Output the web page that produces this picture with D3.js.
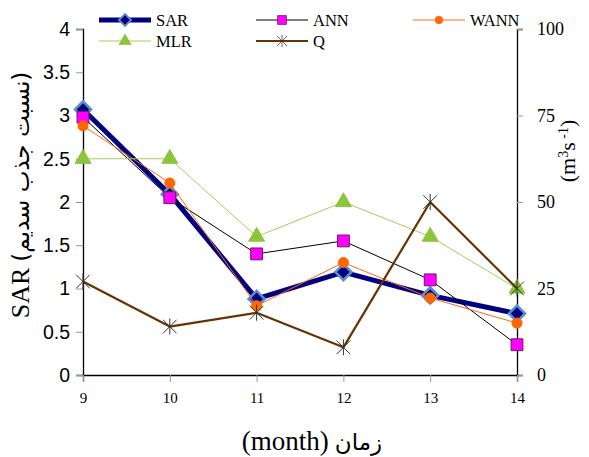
<!DOCTYPE html>
<html>
<head>
<meta charset="utf-8">
<script src="https://cdn.jsdelivr.net/npm/d3@7"></script>
<style>
  body { margin: 0; background: #fff; }
  svg { display: block; }
</style>
</head>
<body>
<div id="chart"></div>
<script>
const months = [9, 10, 11, 12, 13, 14];
const sar  = [3.07, 2.09, 0.88, 1.19, 0.92, 0.71];
const ann  = [2.98, 2.05, 1.40, 1.55, 1.10, 0.35];
const wann = [2.88, 2.22, 0.80, 1.30, 0.89, 0.60];
const mlr  = [2.5, 2.5, 1.6, 2.0, 1.6, 1.0];
const q    = [27, 14, 18, 8, 50, 25];   // right axis, m3/s
const leftTicks = [0, 0.5, 1, 1.5, 2, 2.5, 3, 3.5, 4];
const rightTicks = [0, 25, 50, 75, 100];

const W = 589, H = 457;
const margin = {top: 29, right: 72, bottom: 82, left: 83};
const width = W - margin.left - margin.right;
const height = H - margin.top - margin.bottom;

const serif = "'Liberation Serif', 'Times New Roman', serif";
const arabic = "'DejaVu Sans', sans-serif";

const svg = d3.select("#chart").append("svg")
    .attr("width", W)
    .attr("height", H);

const g = svg.append("g")
    .attr("transform", `translate(${margin.left},${margin.top})`);

const x = d3.scaleLinear().domain([9, 14]).range([0, width]);
const y = d3.scaleLinear().domain([0, 4]).range([height, 0]);
const y2 = d3.scaleLinear().domain([0, 100]).range([height, 0]);

// axes
const yAxis = g.append("g")
    .call(d3.axisLeft(y).tickValues(leftTicks).tickFormat(d3.format("")).tickSize(7).tickPadding(6));
yAxis.selectAll("text")
    .style("font-family", "'Liberation Sans', Arial, sans-serif")
    .style("font-size", "19.5px")
    .attr("fill", "#000");

const y2Axis = g.append("g")
    .attr("transform", `translate(${width},0)`)
    .call(d3.axisRight(y2).tickValues(rightTicks).tickSize(6).tickPadding(14));
y2Axis.selectAll("text")
    .style("font-family", serif)
    .style("font-size", "18px")
    .attr("fill", "#000");

const xAxis = g.append("g")
    .attr("transform", `translate(0,${height})`)
    .call(d3.axisBottom(x).tickValues(months).tickFormat(d3.format("d")).tickSize(7).tickPadding(10));
xAxis.selectAll("text")
    .style("font-family", serif)
    .style("font-size", "15px")
    .attr("fill", "#000");

[yAxis, y2Axis, xAxis].forEach(a => {
    a.select(".domain").attr("stroke", "#000").attr("stroke-width", 1.3);
    a.selectAll(".tick line").attr("stroke", "#999");
});

// asterisk marker (x plus vertical bar)
function starPath(r) {
    const d = r * 0.85;
    return `M${-d},${-d}L${d},${d}M${-d},${d}L${d},${-d}M0,${-r}L0,${r}`;
}

const series = [
    {name: "SAR", values: sar, scale: y, color: "#000080", width: 5, marker: "diamond", fill: "#000080", stroke: "#5b8fd0"},
    {name: "ANN", values: ann, scale: y, color: "#000", width: 1, marker: "square", fill: "#ff00ff", stroke: "#6a1a6a"},
    {name: "WANN", values: wann, scale: y, color: "#ff6a10", width: 1, marker: "circle", fill: "#ff6600", stroke: "#ff6600"},
    {name: "MLR", values: mlr, scale: y, color: "#9fd060", width: 1, marker: "triangle", fill: "#8cc43c", stroke: "#8cc43c"},
    {name: "Q", values: q, scale: y2, color: "#663300", width: 2.2, marker: "star", fill: "none", stroke: "#333"}
];

function drawMarker(sel, s) {
    if (s.marker === "star") {
        sel.append("path").attr("d", starPath(8))
            .attr("fill", "none").attr("stroke", s.stroke).attr("stroke-width", 1);
    } else if (s.marker === "diamond") {
        sel.append("path").attr("d", d3.symbol().type(d3.symbolSquare).size(130)())
            .attr("transform", "rotate(45)")
            .attr("fill", s.fill).attr("stroke", s.stroke).attr("stroke-width", 2.5);
    } else {
        const type = {square: d3.symbolSquare, circle: d3.symbolCircle, triangle: d3.symbolTriangle}[s.marker];
        const size = {square: 140, circle: 80, triangle: 110}[s.marker];
        sel.append("path").attr("d", d3.symbol().type(type).size(size)())
            .attr("fill", s.fill).attr("stroke", s.stroke).attr("stroke-width", 1);
    }
}

series.forEach(s => {
    const pts = months.map((m, i) => ({m: m, v: s.values[i]}));
    const line = d3.line().x(d => x(d.m)).y(d => s.scale(d.v));
    g.append("path")
        .datum(pts)
        .attr("fill", "none")
        .attr("stroke", s.color)
        .attr("stroke-width", s.width)
        .attr("stroke-linejoin", "round")
        .attr("d", line);
    g.selectAll(null)
        .data(pts)
        .enter()
        .append("g")
            .attr("transform", d => `translate(${x(d.m)},${s.scale(d.v)})`)
            .each(function() { drawMarker(d3.select(this), s); });
});

// legend
const legendPos = [
    {name: "SAR", x: 99, y: 20},
    {name: "ANN", x: 256, y: 20},
    {name: "WANN", x: 413, y: 20},
    {name: "MLR", x: 99, y: 41},
    {name: "Q", x: 256, y: 41}
];
legendPos.forEach(p => {
    const s = series.find(d => d.name === p.name);
    const lg = svg.append("g").attr("transform", `translate(${p.x},${p.y})`);
    lg.append("line").attr("x1", 0).attr("x2", 52).attr("y1", 0).attr("y2", 0)
        .attr("stroke", s.color).attr("stroke-width", s.width);
    const mk = lg.append("g").attr("transform", "translate(26,0) scale(0.75)");
    drawMarker(mk, s);
    lg.append("text")
        .attr("x", 57)
        .attr("y", 6)
        .style("font-family", serif)
        .style("font-size", "16.5px")
        .text(s.name);
});

// axis titles: latin and arabic parts as separate text nodes, laid out by measured width
function twoPartLabel(parent, parts, gap) {
    const grp = parent.append("g");
    const nodes = parts.map(p => grp.append("text")
        .style("font-family", p.font)
        .style("font-size", p.size)
        .attr("fill", "#000")
        .text(p.text));
    const widths = nodes.map(n => n.node().getComputedTextLength());
    const total = d3.sum(widths) + gap;
    let pos = -total / 2;
    nodes.forEach((n, i) => {
        n.attr("x", pos);
        pos += widths[i] + gap;
    });
    return grp;
}

twoPartLabel(svg, [
    {text: "SAR", font: serif, size: "26px"},
    {text: "(نسبت جذب سدیم)", font: arabic, size: "23px"}
], 6).attr("transform", "translate(29,195) rotate(-90)");

const rt = svg.append("text")
    .attr("transform", `translate(575,151) rotate(-90)`)
    .attr("text-anchor", "middle")
    .style("font-family", serif)
    .style("font-size", "22px");
rt.append("tspan").text("(m");
rt.append("tspan").attr("baseline-shift", "super").style("font-size", "14px").text("3");
rt.append("tspan").text("s");
rt.append("tspan").attr("baseline-shift", "super").style("font-size", "14px").text(" -1");
rt.append("tspan").text(")");

twoPartLabel(svg, [
    {text: "(month)", font: serif, size: "27px"},
    {text: "زمان", font: arabic, size: "23px"}
], 6).attr("transform", "translate(312,450)");
</script>
</body>
</html>
